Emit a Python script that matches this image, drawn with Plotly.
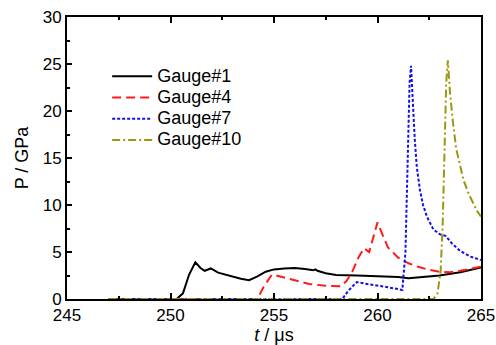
import plotly.graph_objects as go

# Gauge#1
t1 = [247, 250.3, 250.6, 250.9, 251.2, 251.45, 251.65, 251.95, 252.3, 252.8, 253.4, 253.8,
      254.2, 254.6, 255.0, 255.5, 256.0, 256.5, 256.9, 257.0, 257.1, 257.5, 258.0, 259.0,
      260.0, 261.0, 261.5, 262.0, 263.0, 264.0, 265.0]
p1 = [0, 0, 0.6, 2.6, 3.9, 3.3, 3.0, 3.25, 2.8, 2.5, 2.15, 2.0,
      2.4, 2.9, 3.15, 3.25, 3.3, 3.2, 3.05, 3.15, 3.0, 2.75, 2.55, 2.5,
      2.45, 2.35, 2.2, 2.3, 2.5, 2.85, 3.35]
# Gauge#4
t4 = [247, 254.2, 254.5, 254.9, 255.3, 256.0, 256.7, 257.5, 258.2, 258.5, 258.8, 259.1,
      259.35, 259.6, 259.8, 260.0, 260.25, 260.5, 261.0, 261.5, 262.0, 262.5, 263.0,
      263.5, 264.0, 264.5, 265.0]
p4 = [0, 0, 1.3, 2.6, 2.4, 2.0, 1.6, 1.4, 1.35, 1.9, 3.0, 4.5,
      5.4, 5.0, 6.5, 8.15, 6.8, 5.5, 4.4, 3.8, 3.4, 3.1, 2.9,
      2.85, 3.0, 3.2, 3.45]
# Gauge#7
t7 = [247, 258.3, 258.6, 259.0, 259.5, 260.0, 260.5, 261.0, 261.2, 261.35, 261.45, 261.55,
      261.62, 261.7, 261.8, 261.9, 262.05, 262.2, 262.4, 262.7, 263.0, 263.3, 263.6, 264.0,
      264.5, 265.0]
p7 = [0, 0, 0.9, 1.8, 1.6, 1.45, 1.25, 1.05, 0.95, 5, 15, 23,
      24.8, 21, 17, 14, 11.6, 10, 8.7, 7.4, 6.9, 6.7, 5.9, 5.1,
      4.5, 4.15]
# Gauge#10
t10 = [247, 262.7, 262.9, 263.05, 263.15, 263.25, 263.32, 263.4, 263.5, 263.65, 263.8,
       264.0, 264.15, 264.4, 264.6, 264.8, 265.0]
p10 = [0, 0, 0.6, 3, 8, 16, 23, 25.4, 22.0, 18.7, 16.0,
       14.1, 12.7, 11.2, 10.3, 9.4, 8.75]

names = ["Gauge#1", "Gauge#4", "Gauge#7", "Gauge#10"]
x_ticks = [245, 250, 255, 260, 265]
y_ticks = [0, 5, 10, 15, 20, 25, 30]

def lab(s):
    return '<span style="font-size:18px">' + s + '</span>'

fig = go.Figure()
fig.add_trace(go.Scatter(x=t1, y=p1, mode="lines", name=lab(names[0]),
                         line=dict(color="black", width=2, dash="solid")))
fig.add_trace(go.Scatter(x=t4, y=p4, mode="lines", name=lab(names[1]),
                         line=dict(color="#ff1a1a", width=2, dash="9px,5px")))
fig.add_trace(go.Scatter(x=t7, y=p7, mode="lines", name=lab(names[2]),
                         line=dict(color="#1010ee", width=2, dash="3px,2px")))
fig.add_trace(go.Scatter(x=t10, y=p10, mode="lines", name=lab(names[3]),
                         line=dict(color="#999910", width=2, dash="8px,3px,2px,3px")))

font = "Liberation Sans, Arial, sans-serif"
fig.update_layout(
    width=496, height=345,
    margin=dict(l=67, r=15, t=17, b=46),
    paper_bgcolor="white", plot_bgcolor="white",
    font=dict(family=font, size=17, color="black"),
    showlegend=True,
    legend=dict(x=0.097, y=0.845, xanchor="left", yanchor="top",
                bgcolor="rgba(0,0,0,0)", font=dict(size=14, family=font),
                itemwidth=40, tracegroupgap=0),
    xaxis=dict(range=[245, 265], tickvals=x_ticks, ticktext=[str(v) for v in x_ticks],
               ticks="inside", ticklen=6, tickwidth=1.5, tickcolor="black",
               tickfont=dict(size=17), automargin=False, ticklabeloverflow="allow",
               showline=True, linecolor="black", linewidth=2, mirror="ticks",
               showgrid=False, zeroline=False,
               minor=dict(dtick=2.5, tick0=245, ticks="inside", ticklen=3, tickcolor="black"),
               title=dict(text="<i>t</i> / μs", font=dict(size=18), standoff=0)),
    yaxis=dict(range=[0, 30], tickvals=y_ticks, ticktext=[str(v) for v in y_ticks],
               ticks="inside", ticklen=5, tickwidth=1.5, tickcolor="black",
               tickfont=dict(size=17), automargin=False, ticklabeloverflow="allow",
               showline=True, linecolor="black", linewidth=2, mirror=True,
               showgrid=False, zeroline=False,
               minor=dict(dtick=2.5, tick0=0, ticks="inside", ticklen=3, tickcolor="black"),
               title=dict(text="P / GPa", font=dict(size=18), standoff=9)),
)

fig.write_html("out.html", config={"displayModeBar": False},
               post_script="document.body.style.margin='0px';")
